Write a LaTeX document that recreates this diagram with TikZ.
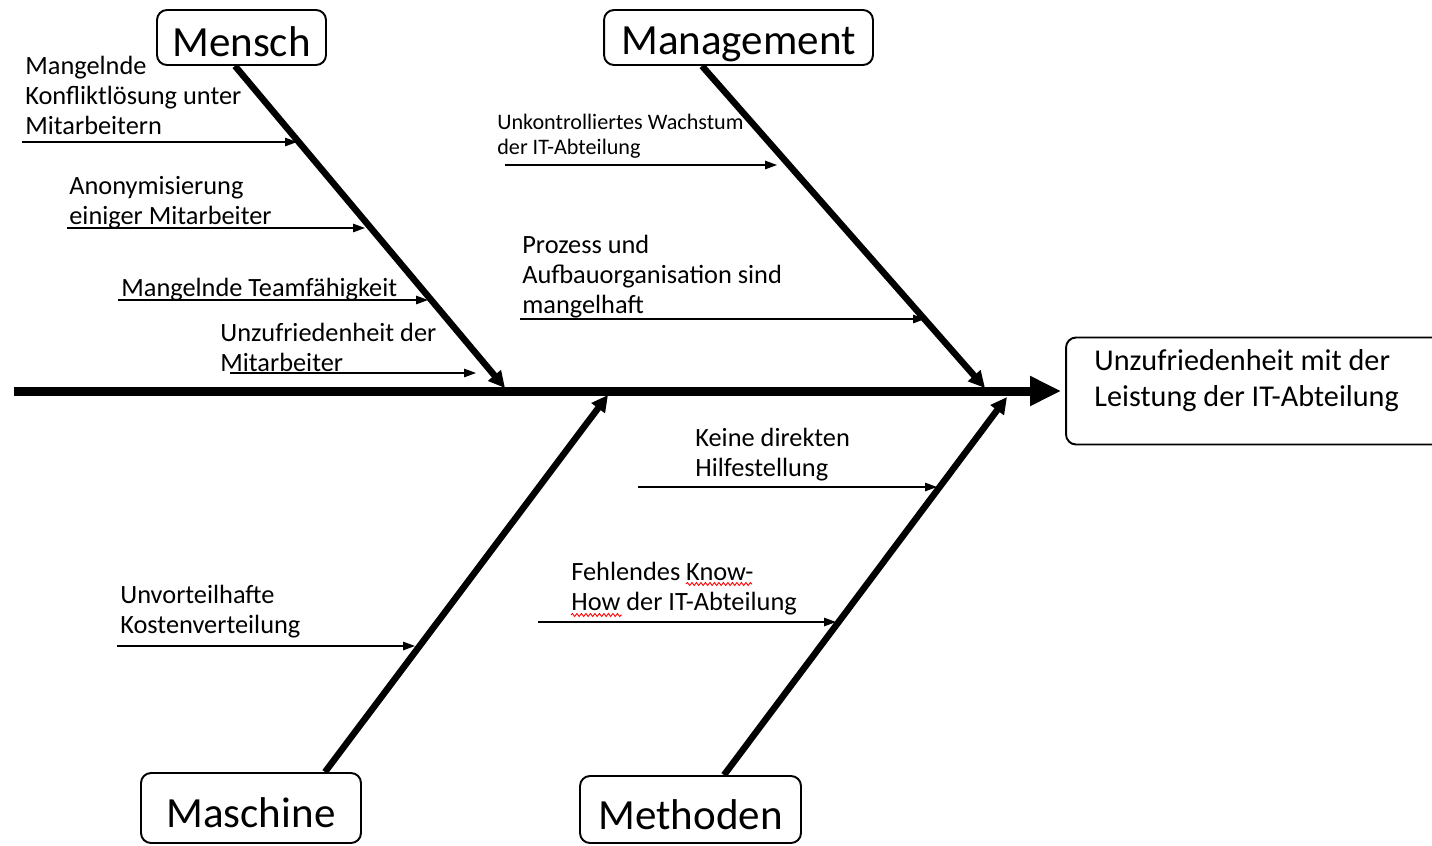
\documentclass[tikz,border=0pt]{standalone}
\usepackage{fontspec}
\setmainfont{Carlito}
\usetikzlibrary{arrows.meta,decorations.pathmorphing}

\begin{document}
\begin{tikzpicture}[x=0.02cm,y=-0.02cm,
	kat/.style={draw,line width=1.1pt,rounded corners=0.2cm,inner sep=0pt,text height=0.76cm,text depth=0cm,font=\fontsize{24.5}{28}\selectfont},
	txt/.style={anchor=base west,align=left,inner sep=0pt,font=\fontsize{15}{17}\selectfont},
	bone/.style={line width=0.13cm,-{Triangle[length=0.33cm,width=0.32cm]}},
	spine/.style={line width=0.18cm,-{Triangle[length=0.62cm,width=0.56cm]},shorten >=0.08cm},
	sub/.style={line width=0.7pt,-{Triangle[length=0.24cm,width=0.17cm]}},
	wavy/.style={red,line width=0.5pt,decorate,decoration={snake,amplitude=0.03cm,segment length=0.09cm}}]
	\clip (0,0) rectangle (1432,845);
	\fill[white] (0,0) rectangle (1432,845);

	\node[kat,minimum width=3.38cm,minimum height=1.1cm] (mensch) at (241.5,37.5) {Mensch};
	\node[kat,minimum width=5.38cm,minimum height=1.1cm,text height=0.7cm] (mgmt) at (738.5,37.5) {Management};
	\node[kat,minimum width=4.4cm,minimum height=1.4cm] (masch) at (251,808) {Maschine};
	\node[kat,minimum width=4.42cm,minimum height=1.34cm,text height=0.8cm] (meth) at (690.5,809.5) {Methoden};

	\node[draw,line width=1.1pt,rounded corners=0.2cm,minimum width=7.58cm,minimum height=2.14cm] (wirkung) at (1255.5,391) {};
	\node[txt,font=\fontsize{17.2}{20}\selectfont] (wtext) at (1094,406) {Unzufriedenheit mit der\\Leistung der IT-Abteilung};

	\coordinate (s0) at (14,391);
	\draw[spine] (s0) -- (wirkung);

	\coordinate (p1) at (505,388);
	\coordinate (p2) at (985,388);
	\coordinate (p3) at (608,395);
	\coordinate (p4) at (1007,397);
	\draw[bone] ([xshift=-0.13cm]mensch.south) -- (p1);
	\draw[bone] ([xshift=-0.73cm]mgmt.south) -- (p2);
	\draw[bone] ([xshift=1.48cm]masch.north) -- (p3);
	\draw[bone] ([xshift=0.67cm]meth.north) -- (p4);

	\node[txt] (t1) at (25,134) {Mangelnde\\Konfliktlösung unter\\Mitarbeitern};
	\node[txt] (t2) at (69,224) {Anonymisierung\\einiger Mitarbeiter};
	\node[txt] (t3) at (121,296) {Mangelnde Teamfähigkeit};
	\node[txt] (t4) at (220,371) {Unzufriedenheit der\\Mitarbeiter};
	\node[txt,font=\fontsize{12.6}{14.2}\selectfont] (t5) at (497,154) {Unkontrolliertes Wachstum\\der IT-Abteilung};
	\node[txt] (t6) at (522,313) {Prozess und\\Aufbauorganisation sind\\mangelhaft};
	\node[txt] (t7) at (120,633) {Unvorteilhafte\\Kostenverteilung};
	\node[txt] (t8) at (695,476) {Keine direkten\\Hilfestellung};
	\node[txt] (t9) at (571,610) {Fehlendes Know-\\How der IT-Abteilung};

	\coordinate (a1) at (22,142);  \coordinate (b1) at (297,142);
	\coordinate (a2) at (67,228);  \coordinate (b2) at (365,228);
	\coordinate (a3) at (118,300); \coordinate (b3) at (428,300);
	\coordinate (a4) at (230,373); \coordinate (b4) at (476,373);
	\coordinate (a5) at (505,165); \coordinate (b5) at (777,165);
	\coordinate (a6) at (520,319); \coordinate (b6) at (925,319);
	\coordinate (a7) at (117,646); \coordinate (b7) at (415,646);
	\coordinate (a8) at (638,487); \coordinate (b8) at (937,487);
	\coordinate (a9) at (538,622); \coordinate (b9) at (836,622);
	\draw[sub] (a1) -- (b1);
	\draw[sub] (a2) -- (b2);
	\draw[sub] (a3) -- (b3);
	\draw[sub] (a4) -- (b4);
	\draw[sub] (a5) -- (b5);
	\draw[sub] (a6) -- (b6);
	\draw[sub] (a7) -- (b7);
	\draw[sub] (a8) -- (b8);
	\draw[sub] (a9) -- (b9);

	\draw[wavy] (686,584) -- (752,584);
	\draw[wavy] (571,615) -- (622,615);
\end{tikzpicture}
\end{document}
